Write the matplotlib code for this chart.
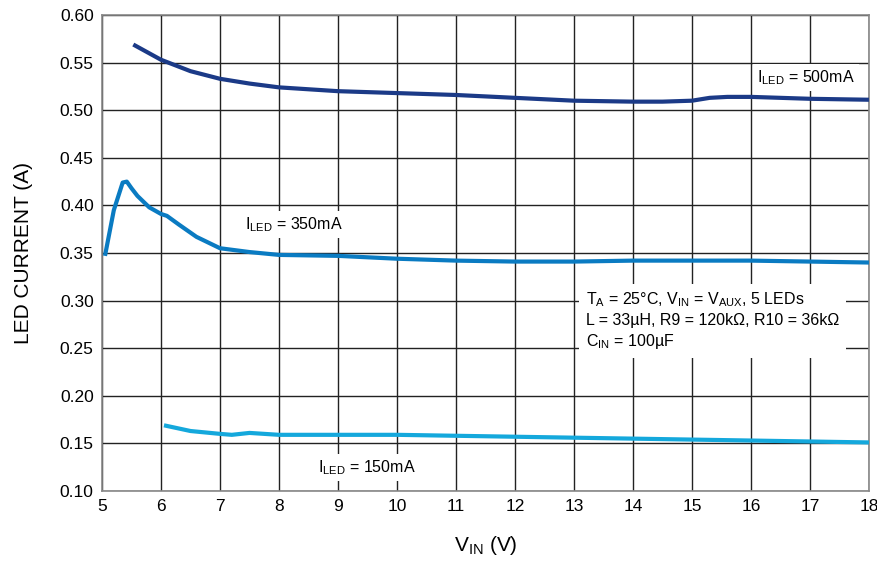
import matplotlib
matplotlib.use("Agg")
import matplotlib.pyplot as plt
import numpy as np

plt.rcParams['font.family'] = ['Liberation Sans', 'DejaVu Sans']
plt.rcParams['mathtext.fontset'] = 'custom'
plt.rcParams['mathtext.rm'] = 'Liberation Sans'
plt.rcParams['mathtext.it'] = 'Liberation Sans'

# ILED = 500mA
v500 = [5.53, 6.0, 6.5, 7.0, 7.5, 8.0, 9.0, 10.0, 11.0, 12.0, 13.0, 14.0, 14.5, 15.0, 15.3, 15.6, 16.0, 16.5, 17.0, 18.0]
i500 = [0.569, 0.553, 0.541, 0.533, 0.528, 0.524, 0.520, 0.518, 0.516, 0.513, 0.510, 0.509, 0.509, 0.510, 0.513, 0.514, 0.514, 0.513, 0.512, 0.511]

# ILED = 350mA
v350 = [5.05, 5.2, 5.35, 5.42, 5.5, 5.6, 5.8, 6.0, 6.1, 6.3, 6.6, 7.0, 7.5, 8.0, 9.0, 10.0, 11.0, 12.0, 13.0, 14.0, 15.0, 16.0, 17.0, 18.0]
i350 = [0.347, 0.395, 0.424, 0.425, 0.418, 0.410, 0.398, 0.391, 0.389, 0.380, 0.367, 0.355, 0.351, 0.348, 0.347, 0.344, 0.342, 0.341, 0.341, 0.342, 0.342, 0.342, 0.341, 0.340]

# ILED = 150mA
v150 = [6.05, 6.5, 7.0, 7.2, 7.5, 8.0, 9.0, 10.0, 11.0, 12.0, 13.0, 14.0, 15.0, 16.0, 17.0, 18.0]
i150 = [0.169, 0.163, 0.160, 0.159, 0.161, 0.159, 0.159, 0.159, 0.158, 0.157, 0.156, 0.155, 0.154, 0.153, 0.152, 0.151]

fig = plt.figure(figsize=(8.78, 5.69), dpi=100)
ax = fig.add_axes([0.1162, 0.1371, 0.8735, 0.8365])

ax.plot(v500, i500, color='#1b3a87', lw=3, solid_capstyle='butt', zorder=3)
ax.plot(v350, i350, color='#0a7bc2', lw=3, solid_capstyle='butt', zorder=3)
ax.plot(v150, i150, color='#14a8dc', lw=3, solid_capstyle='butt', zorder=3)

ax.set_xlim(5, 18)
ax.set_ylim(0.10, 0.60)
ax.set_xticks(np.arange(5, 19, 1))
ax.set_yticks(np.arange(0.10, 0.601, 0.05))
ax.set_yticklabels(['%.2f' % t for t in np.arange(0.10, 0.601, 0.05)])
ax.grid(True, color='#222222', lw=1)
ax.set_axisbelow(True)
ax.tick_params(length=0, labelsize=12.5, pad=6)
for s in ax.spines.values():
    s.set_color('#888888')
    s.set_linewidth(1.2)

ax.set_xlabel(r'V$_{\mathrm{IN}}$ (V)', fontsize=15, labelpad=14)
ax.set_ylabel('LED CURRENT (A)', fontsize=15, labelpad=19)

box = dict(facecolor='white', edgecolor='none', pad=3)
ax.text(16.1, 0.534, r'I$_{\mathrm{LED}}$ = 500mA', fontsize=11.5, va='center', bbox=box, zorder=2)
ax.text(7.42, 0.380, r'I$_{\mathrm{LED}}$ = 350mA', fontsize=11.5, va='center', bbox=box, zorder=2)
ax.text(8.66, 0.125, r'I$_{\mathrm{LED}}$ = 150mA', fontsize=11.5, va='center', bbox=box, zorder=2)
ax.text(13.2, 0.279,
        'T$_{\\mathrm{A}}$ = 25°C, V$_{\\mathrm{IN}}$ = V$_{\\mathrm{AUX}}$, 5 LEDs\n'
        'L = 33µH, R9 = 120kΩ, R10 = 36kΩ\n'
        'C$_{\\mathrm{IN}}$ = 100µF',
        fontsize=11.5, va='center', linespacing=1.3,
        bbox=dict(facecolor='white', edgecolor='none', pad=5), zorder=2)

fig.savefig('out.png', dpi=100)
